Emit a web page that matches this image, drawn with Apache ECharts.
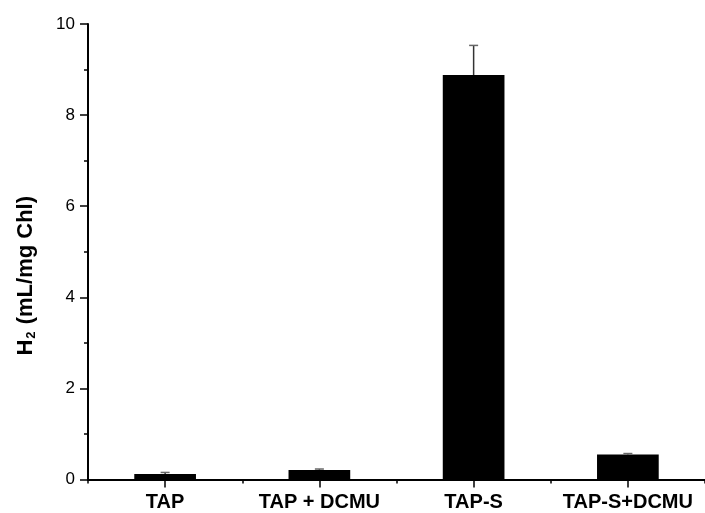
<!DOCTYPE html>
<html>
<head>
<meta charset="utf-8">
<script src="https://cdn.jsdelivr.net/npm/echarts@6/dist/echarts.min.js"></script>
<style>
html,body{margin:0;padding:0;background:#fff;}
#chart{width:705px;height:513px;}
</style>
</head>
<body>
<div id="chart"></div>
<script>
const categories = ['TAP', 'TAP + DCMU', 'TAP-S', 'TAP-S+DCMU'];
const h2Values = [0.12, 0.21, 8.88, 0.55];
const h2Errors = [0.035, 0.02, 0.65, 0.02];
const yTicks = [0, 2, 4, 6, 8, 10];

const FONT = '"Liberation Sans", Arial, sans-serif';
const chart = echarts.init(document.getElementById('chart'), null, {renderer: 'canvas'});

const errData = categories.map((c, i) => [i, h2Values[i] - h2Errors[i], h2Values[i] + h2Errors[i]]);

chart.setOption({
  animation: false,
  backgroundColor: '#fff',
  grid: {left: 88, right: -1, top: 24, bottom: 33.5, containLabel: false},
  xAxis: [{
    type: 'category',
    data: categories,
    boundaryGap: true,
    axisLine: {show: true, lineStyle: {color: '#000', width: 2}},
    axisTick: {show: true, alignWithLabel: true, interval: 0, length: 8, lineStyle: {color: '#000', width: 1.5}},
    axisLabel: {interval: 0, hideOverlap: false, color: '#000', fontFamily: FONT, fontWeight: 'bold', fontSize: 20, margin: 13},
    splitLine: {show: false}
  }, {
    type: 'category',
    data: categories,
    boundaryGap: true,
    position: 'bottom',
    axisLine: {show: false},
    axisTick: {show: true, alignWithLabel: false, interval: 0, length: 4, lineStyle: {color: '#000', width: 1.5}},
    axisLabel: {show: false},
    splitLine: {show: false}
  }],
  yAxis: {
    type: 'value',
    min: yTicks[0],
    max: yTicks[yTicks.length - 1],
    interval: 2,
    name: '{b|H}{s|2}{b| (mL/mg Chl)}',
    nameLocation: 'middle',
    nameGap: 50,
    nameRotate: 90,
    nameTextStyle: {
      padding: [0, 48, 0, 0],
      rich: {
        b: {fontFamily: FONT, fontWeight: 'bold', fontSize: 22, color: '#000'},
        s: {fontFamily: FONT, fontWeight: 'bold', fontSize: 13, color: '#000', padding: [12, 1, 0, 1]}
      }
    },
    axisLine: {show: true, lineStyle: {color: '#000', width: 2}},
    axisTick: {show: true, length: 8, lineStyle: {color: '#000', width: 1.5}},
    minorTick: {show: true, splitNumber: 2, length: 4, lineStyle: {color: '#000', width: 1.5}},
    axisLabel: {color: '#000', fontFamily: FONT, fontSize: 17, margin: 13},
    splitLine: {show: false}
  },
  series: [{
    type: 'bar',
    data: h2Values,
    barWidth: '40%',
    itemStyle: {color: '#000'},
    z: 2
  }, {
    type: 'custom',
    data: errData,
    z: 3,
    renderItem: function (params, api) {
      const x = api.value(0);
      const top = api.coord([x, api.value(2)]);
      const mid = api.coord([x, (api.value(1) + api.value(2)) / 2]);
      const hw = 4.5;
      return {
        type: 'group',
        children: [{
          type: 'line',
          shape: {x1: top[0], y1: top[1], x2: mid[0], y2: mid[1]},
          style: {stroke: '#333', lineWidth: 1.5}
        }, {
          type: 'line',
          shape: {x1: top[0] - hw, y1: top[1], x2: top[0] + hw, y2: top[1]},
          style: {stroke: '#666', lineWidth: 1.5}
        }]
      };
    }
  }]
});
</script>
</body>
</html>
